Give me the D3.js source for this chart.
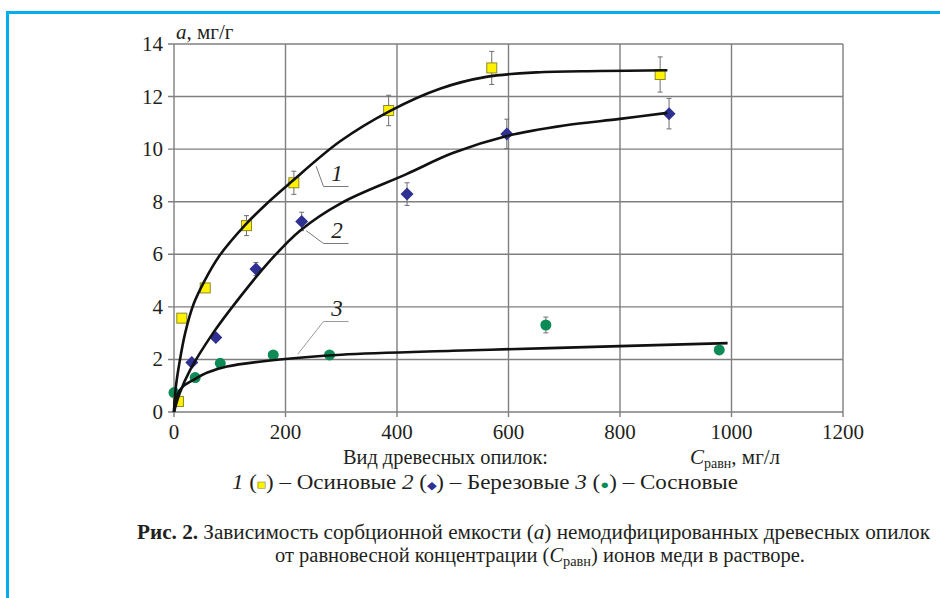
<!DOCTYPE html>
<html>
<head>
    <meta charset="UTF-8">
    <title>Sorption</title>
    <script src="https://d3js.org/d3.v7.min.js"></script>
</head>
<body style="margin:0">
<script>
    // ticks
    const xTicks = [0, 200, 400, 600, 800, 1000, 1200];
    const yTicks = [0, 2, 4, 6, 8, 10, 12, 14];

    // 1 - осиновые (yellow squares)
    const aspenC   = [8, 14, 56, 130, 215, 385, 570, 872];
    const aspenA   = [0.4, 3.57, 4.72, 7.09, 8.72, 11.47, 13.09, 12.84];
    const aspenErr = [0, 0, 0, 0.38, 0.44, 0.58, 0.63, 0.67];
    // 2 - березовые (blue diamonds)
    const birchC   = [32, 75, 147, 229, 418, 597, 888];
    const birchA   = [1.88, 2.83, 5.44, 7.25, 8.29, 10.58, 11.35];
    const birchErr = [0, 0, 0.25, 0.35, 0.43, 0.56, 0.58];
    // 3 - сосновые (green circles)
    const pineC    = [0, 38, 83, 178, 279, 667, 978];
    const pineA    = [0.74, 1.31, 1.85, 2.17, 2.17, 3.31, 2.36];
    const pineErr  = [0, 0, 0, 0, 0, 0.3, 0];

    // fitted curves
    const curve1C = [0, 3, 10, 20, 35, 55, 80, 127, 170, 208, 298, 387, 477, 560, 650, 764, 885];
    const curve1A = [0, 0.9, 1.9, 3.0, 4.1, 5.0, 5.9, 7.1, 8.0, 8.71, 10.3, 11.45, 12.3, 12.75, 12.92, 12.97, 13.0];
    const curve2C = [0, 10, 29, 70, 112, 172, 226, 300, 417, 500, 597, 700, 800, 885];
    const curve2A = [0, 0.7, 1.6, 3.0, 4.2, 5.75, 6.9, 7.95, 9.05, 9.85, 10.5, 10.9, 11.15, 11.38];
    const curve3C = [0, 3, 15, 35, 60, 95, 190, 300, 500, 674, 993];
    const curve3A = [0, 0.5, 0.95, 1.22, 1.5, 1.73, 2.0, 2.18, 2.33, 2.43, 2.62];

    // curve labels: leader start (C, a)
    const curveLabels = ["1", "2", "3"];
    const labelFrom = [[255, 9.35], [237, 6.9], [222, 2.2]];

    const W = 940, H = 598;
    const x = d3.scaleLinear().domain([0, 1200]).range([174, 843]);
    const y = d3.scaleLinear().domain([0, 14]).range([412, 44]);

    const svg = d3.select("body").append("svg")
        .attr("width", W).attr("height", H);

    svg.append("rect").attr("width", W).attr("height", H).attr("fill", "#fff");

    // cyan frame (top + left)
    svg.append("path")
        .attr("d", `M7.5,${H} L7.5,12.5 L${W},12.5`)
        .attr("fill", "none")
        .attr("stroke", "#00aeef")
        .attr("stroke-width", 3);

    // grid
    const grid = svg.append("g").attr("stroke", "#7f7f7f").attr("stroke-width", 1.4);
    grid.selectAll(".gx").data(xTicks).enter().append("line")
        .attr("x1", d => x(d)).attr("x2", d => x(d))
        .attr("y1", y(14)).attr("y2", y(0) + 5);
    grid.selectAll(".gy").data(yTicks).enter().append("line")
        .attr("x1", x(0) - 6).attr("x2", x(1200))
        .attr("y1", d => y(d)).attr("y2", d => y(d));

    function txt(sel, size) {
        return sel.append("text")
            .attr("font-family", "Liberation Serif")
            .attr("font-size", size)
            .attr("fill", "#231f20");
    }

    // tick labels
    const xl = svg.append("g");
    xTicks.forEach(d => txt(xl, 21).attr("x", x(d)).attr("y", 439)
        .attr("text-anchor", "middle").text(d));
    const yl = svg.append("g");
    yTicks.forEach(d => txt(yl, 21).attr("x", 163).attr("y", y(d) + 7)
        .attr("text-anchor", "end").text(d));

    // y axis title
    const yt = txt(svg, 21).attr("x", 176).attr("y", 39);
    yt.append("tspan").attr("font-style", "italic").text("a");
    yt.append("tspan").text(", мг/г");

    // error bars
    function errBars(cs, as, es) {
        const g = svg.append("g").attr("stroke", "#6d6e71").attr("stroke-width", 1);
        cs.forEach((c, i) => {
            if (!es[i]) return;
            const cx = x(c), t = y(as[i] + es[i]), b = y(as[i] - es[i]);
            g.append("line").attr("x1", cx).attr("x2", cx).attr("y1", t).attr("y2", b);
            g.append("line").attr("x1", cx - 2.5).attr("x2", cx + 2.5).attr("y1", t).attr("y2", t);
            g.append("line").attr("x1", cx - 2.5).attr("x2", cx + 2.5).attr("y1", b).attr("y2", b);
        });
    }
    errBars(aspenC, aspenA, aspenErr);
    errBars(birchC, birchA, birchErr);
    errBars(pineC, pineA, pineErr);

    // markers
    svg.append("g").selectAll("circle").data(pineC).enter().append("circle")
        .attr("cx", d => x(d)).attr("cy", (d, i) => y(pineA[i]))
        .attr("r", 5.5)
        .attr("fill", "#0d8b57");
    svg.append("g").selectAll("rect").data(aspenC).enter().append("rect")
        .attr("x", d => x(d) - 5).attr("y", (d, i) => y(aspenA[i]) - 5)
        .attr("width", 10).attr("height", 10)
        .attr("fill", "#fff200").attr("stroke", "#8c8a2a").attr("stroke-width", 1);
    svg.append("g").selectAll("path").data(birchC).enter().append("path")
        .attr("transform", (d, i) => `translate(${x(d)},${y(birchA[i])})`)
        .attr("d", "M0,-6.5 L6.5,0 L0,6.5 L-6.5,0 Z")
        .attr("fill", "#2e3192");

    // fitted curves
    const line = d3.line().x(d => x(d[0])).y(d => y(d[1])).curve(d3.curveCatmullRom.alpha(0.5));
    [[curve1C, curve1A], [curve2C, curve2A], [curve3C, curve3A]].forEach(([cs, as]) => {
        svg.append("path")
            .datum(cs.map((c, i) => [c, as[i]]))
            .attr("fill", "none")
            .attr("stroke", "#111")
            .attr("stroke-width", 2.6)
            .attr("d", line);
    });

    // curve labels with leaders
    curveLabels.forEach((lab, i) => {
        const [c0, a0] = labelFrom[i];
        const sx = x(c0), sy = y(a0);
        const ly = i === 0 ? 186.5 : i === 1 ? 243.5 : 321.5;
        svg.append("path")
            .attr("d", `M${sx},${sy} L323.5,${ly} L348.5,${ly}`)
            .attr("fill", "none")
            .attr("stroke", i === 2 ? "#9a9a9a" : "#7a7a7a")
            .attr("stroke-width", 1);
        txt(svg, 23).attr("x", 337).attr("y", ly - 6)
            .attr("text-anchor", "middle")
            .attr("font-style", "italic")
            .text(lab);
    });

    // x axis title & legend
    txt(svg, 20).attr("x", 343).attr("y", 464)
        .attr("textLength", 205).attr("lengthAdjust", "spacingAndGlyphs")
        .text("Вид древесных опилок:");

    const t2 = txt(svg, 21).attr("x", 690).attr("y", 464);
    t2.append("tspan").attr("font-style", "italic").text("C");
    t2.append("tspan").attr("dy", 4).attr("font-size", 14).text("равн");
    t2.append("tspan").attr("dy", -4).text(", мг/л");

    const leg = txt(svg, 20).attr("x", 232).attr("y", 489)
        .attr("textLength", 506).attr("lengthAdjust", "spacingAndGlyphs");
    leg.append("tspan").attr("font-style", "italic").text("1");
    leg.append("tspan").text(" (");
    leg.append("tspan").attr("fill", "#fff200").attr("stroke", "#8c8a2a").attr("stroke-width", 0.6)
        .attr("font-size", 13).text("■");
    leg.append("tspan").text(") – Осиновые  ");
    leg.append("tspan").attr("font-style", "italic").text("2");
    leg.append("tspan").text(" (");
    leg.append("tspan").attr("fill", "#2e3192").attr("font-size", 11).text("◆");
    leg.append("tspan").text(") – Березовые ");
    leg.append("tspan").attr("font-style", "italic").text("3");
    leg.append("tspan").text(" (");
    leg.append("tspan").attr("fill", "#0d8b57").attr("font-size", 13).text("●");
    leg.append("tspan").text(") – Сосновые");

    // caption
    const c1 = txt(svg, 20).attr("x", 137).attr("y", 539)
        .attr("textLength", 793).attr("lengthAdjust", "spacingAndGlyphs");
    c1.append("tspan").attr("font-weight", "bold").text("Рис. 2.");
    c1.append("tspan").text(" Зависимость сорбционной емкости (");
    c1.append("tspan").attr("font-style", "italic").text("a");
    c1.append("tspan").text(") немодифицированных древесных опилок");

    const c2 = txt(svg, 20).attr("x", 275).attr("y", 562)
        .attr("textLength", 530).attr("lengthAdjust", "spacingAndGlyphs");
    c2.append("tspan").text("от равновесной концентрации (");
    c2.append("tspan").attr("font-style", "italic").text("C");
    c2.append("tspan").attr("dy", 4).attr("font-size", 14).text("равн");
    c2.append("tspan").attr("dy", -4).text(") ионов меди в растворе.");
</script>
</body>
</html>
